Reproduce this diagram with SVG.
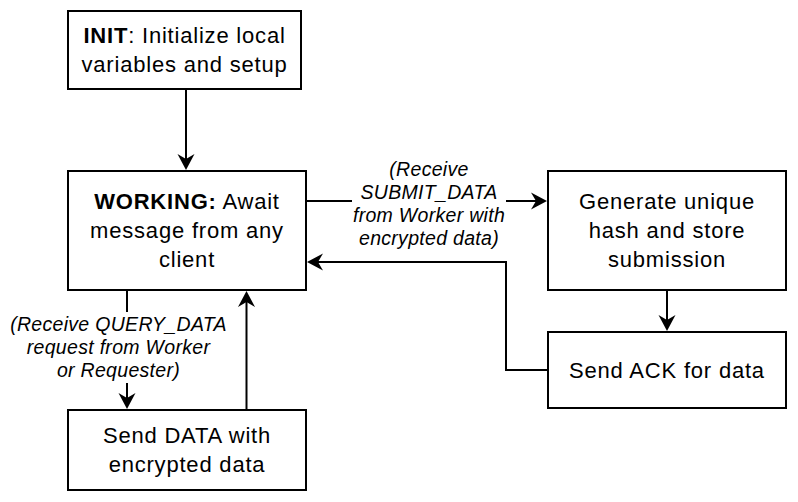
<svg xmlns="http://www.w3.org/2000/svg" width="798" height="502" viewBox="0 0 798 502">
<style>
.box{fill:#ffffff;stroke:#000000;stroke-width:2}
.t{font-family:"Liberation Sans",Arial,sans-serif;font-size:22px;letter-spacing:0.8px;fill:#000000;text-anchor:middle}
.b{font-weight:bold}
.lbl{font-family:"Liberation Sans",Arial,sans-serif;font-size:19.5px;font-style:italic;letter-spacing:0.3px;fill:#000000;text-anchor:middle}
.edge{fill:none;stroke:#000000;stroke-width:2}
.bg{fill:#ffffff;stroke:none}
</style>
<defs>
<marker id="arr" markerUnits="userSpaceOnUse" markerWidth="20" markerHeight="20" viewBox="0 0 20 20" refX="5" refY="10" orient="auto">
<path d="M0,1.5 L16,10 L0,18.5 L5,10 Z" fill="#000000"/>
</marker>
</defs>
<rect width="798" height="502" fill="#ffffff"/>
<g id="connectors">
<path class="edge" d="M186,90 L186,159" marker-end="url(#arr)"/>
<path class="edge" d="M307,201 L536,201" marker-end="url(#arr)"/>
<path class="edge" d="M547,370 L506,370 L506,262 L318,262" marker-end="url(#arr)"/>
<path class="edge" d="M667,290 L667,320" marker-end="url(#arr)"/>
<path class="edge" d="M127,290 L127,398" marker-end="url(#arr)"/>
<path class="edge" d="M246.5,410 L246.5,302" marker-end="url(#arr)"/>
<g id="label-submit">
<rect class="bg" x="352" y="158" width="154" height="92"/>
<text class="lbl" x="429" y="176">(Receive</text>
<text class="lbl" x="429" y="199">SUBMIT_DATA</text>
<text class="lbl" x="429" y="222">from Worker with</text>
<text class="lbl" x="429" y="245">encrypted data)</text>
</g>
<g id="label-query">
<rect class="bg" x="8" y="312" width="222" height="71"/>
<text class="lbl" x="118.5" y="330.7">(Receive QUERY_DATA</text>
<text class="lbl" x="118.5" y="353.7">request from Worker</text>
<text class="lbl" x="118.5" y="376.7">or Requester)</text>
</g>
</g>
<g id="init">
<rect class="box" x="68" y="11" width="233" height="78"/>
<text class="t" x="184.5" y="43.4"><tspan class="b">INIT</tspan>: Initialize local</text>
<text class="t" x="184.5" y="72.4">variables and setup</text>
</g>
<g id="working">
<rect class="box" x="68" y="171" width="238" height="119"/>
<text class="t" x="187" y="209.4"><tspan class="b">WORKING:</tspan> Await</text>
<text class="t" x="187" y="238.4">message from any</text>
<text class="t" x="187" y="267.4">client</text>
</g>
<g id="generate">
<rect class="box" x="548" y="171" width="238" height="119"/>
<text class="t" x="667" y="209.4">Generate unique</text>
<text class="t" x="667" y="238.4">hash and store</text>
<text class="t" x="667" y="267.4">submission</text>
</g>
<g id="ack">
<rect class="box" x="548" y="332" width="238" height="76"/>
<text class="t" x="667" y="377.9">Send ACK for data</text>
</g>
<g id="senddata">
<rect class="box" x="68" y="410" width="238" height="80"/>
<text class="t" x="187" y="443.4">Send DATA with</text>
<text class="t" x="187" y="472.4">encrypted data</text>
</g>
</svg>
